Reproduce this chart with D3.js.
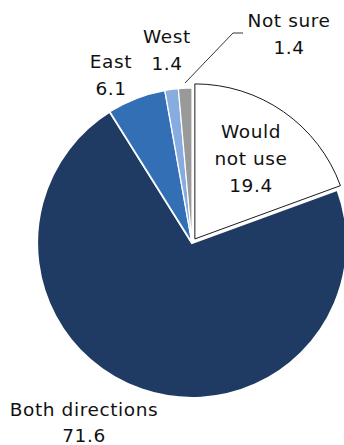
<!DOCTYPE html>
<html><head><meta charset="utf-8">
<script src="https://cdn.jsdelivr.net/npm/d3@7"></script>
<style>body{margin:0;background:#fff}svg{display:block}text{font-family:"DejaVu Sans",sans-serif;font-size:18.5px;letter-spacing:0.6px;fill:#111}</style>
</head><body>
<svg id="c" width="344" height="445"></svg>
<script>
const categories = ["Would not use","Both directions","East","West","Not sure"];
const values = [19.4, 71.6, 6.1, 1.4, 1.4];
const labelLines = [["Would","not use"],["Both directions"],["East"],["West"],["Not sure"]];
const colors = ["#ffffff","#1f3b63","#336fb5","#86ace0","#999999"];

const svg = d3.select("#c");
const cx = 192, cy = 243, r = 155;
const pie = d3.pie().sort(null).value(d=>d)(values);
const arc = d3.arc().innerRadius(0).outerRadius(r);
const g = svg.append("g").attr("transform",`translate(${cx},${cy})`);
const explode = [5,0,0,0,0];
const strokeW = [0.9,2.2,1.5,1.2,1.2];
g.selectAll("path").data(pie).join("path")
  .attr("d",arc)
  .attr("transform",(d,i)=>{const a=(d.startAngle+d.endAngle)/2;return `translate(${Math.sin(a)*explode[i]},${-Math.cos(a)*explode[i]})`;})
  .attr("fill",(d,i)=>colors[i])
  .attr("stroke",(d,i)=>i===0?"#000":"#fff")
  .attr("stroke-width",(d,i)=>strokeW[i]);

// label positions (x center, first baseline)
const labelPos = [[251,138],[84,416],[111,68],[167,43],[289,27]];
const lh = [27,26,27,27,27];
labelPos.forEach((p,i)=>{
  const lines = labelLines[i].concat([d3.format(".1f")(values[i])]);
  const t = svg.append("text").attr("text-anchor","middle");
  lines.forEach((s,k)=>t.append("tspan").attr("x",p[0]).attr("y",p[1]+k*lh[i]).text(s));
});
// leader for Not sure
svg.append("polyline").attr("points","243,33 233,33 185,83").attr("fill","none").attr("stroke","#000").attr("stroke-width",0.8);
</script>
</body></html>
